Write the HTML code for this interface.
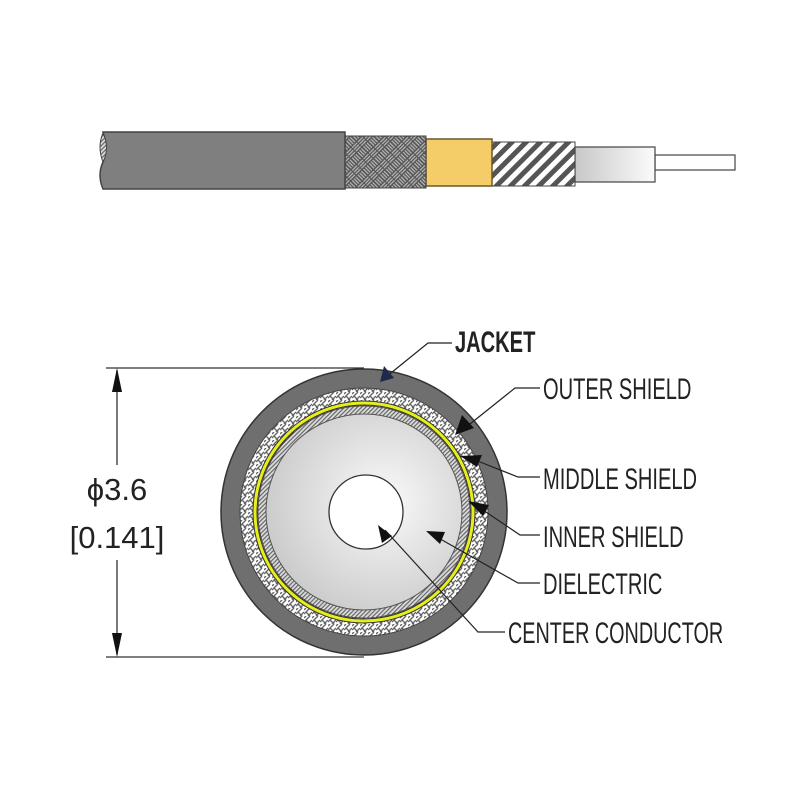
<!DOCTYPE html>
<html><head><meta charset="utf-8"><style>
html,body{margin:0;padding:0;background:#fff;}
svg{display:block;}
text{font-family:"Liberation Sans",sans-serif;}
</style></head><body>
<svg width="792" height="793" viewBox="0 0 792 793" xmlns="http://www.w3.org/2000/svg">
<defs>
  <pattern id="braid" width="16" height="16" patternUnits="userSpaceOnUse" patternTransform="rotate(45)">
    <rect width="16" height="16" fill="#555"/>
    <g stroke="#bbb" stroke-width="1.2">
      <line x1="1.5" y1="0.5" x2="1.5" y2="7.5"/><line x1="4" y1="0.5" x2="4" y2="7.5"/><line x1="6.5" y1="0.5" x2="6.5" y2="7.5"/>
      <line x1="8.5" y1="9.5" x2="15.5" y2="9.5"/><line x1="8.5" y1="12" x2="15.5" y2="12"/><line x1="8.5" y1="14.5" x2="15.5" y2="14.5"/>
      <line x1="8.5" y1="1.5" x2="15.5" y2="1.5"/><line x1="8.5" y1="4" x2="15.5" y2="4"/><line x1="8.5" y1="6.5" x2="15.5" y2="6.5"/>
      <line x1="1.5" y1="8.5" x2="1.5" y2="15.5"/><line x1="4" y1="8.5" x2="4" y2="15.5"/><line x1="6.5" y1="8.5" x2="6.5" y2="15.5"/>
    </g>
  </pattern>
  <pattern id="weave" width="8" height="8" patternUnits="userSpaceOnUse">
    <rect width="8" height="8" fill="#fff"/>
    <path d="M0 2 L2 0 M0 6 L6 0 M4 8 L8 4 M2 4 L6 8" stroke="#666" stroke-width="1.4" fill="none"/>
  </pattern>
  <pattern id="hatch" width="10" height="10" patternUnits="userSpaceOnUse" patternTransform="rotate(45)">
    <rect width="10" height="10" fill="#fff"/>
    <rect width="5" height="10" fill="#555"/>
  </pattern>
  <pattern id="fine" width="3" height="3" patternUnits="userSpaceOnUse" patternTransform="rotate(45)">
    <rect width="3" height="3" fill="#ddd"/><rect width="1.2" height="3" fill="#666"/>
  </pattern>
  <linearGradient id="diel" x1="0" x2="1" y1="0" y2="0">
    <stop offset="0" stop-color="#c8c8c8"/><stop offset="1" stop-color="#fbfbfb"/>
  </linearGradient>
  <radialGradient id="dielc" cx="0.6" cy="0.45" r="0.7">
    <stop offset="0" stop-color="#fafafa"/><stop offset="1" stop-color="#c4c4c4"/>
  </radialGradient>
</defs>

<rect x="655" y="155" width="80" height="15" fill="#fff" stroke="#444" stroke-width="1.2"/>
<rect x="575" y="147" width="80" height="35" fill="url(#diel)" stroke="#444" stroke-width="1.2"/>
<rect x="492" y="142" width="83" height="44" fill="url(#hatch)" stroke="#444" stroke-width="1"/>
<rect x="426" y="139" width="66" height="47" fill="#f4cd68" stroke="#6a5a2a" stroke-width="1.5"/>
<rect x="345" y="136" width="81" height="52" fill="url(#braid)" stroke="#444" stroke-width="1"/>
<path d="M103 132 L345 132 L345 189 L103 189 Q97 175 103 162 Q108 150 103 132 Z" fill="#7f7f7f" stroke="#444" stroke-width="1.5"/>
<path d="M103 133 Q97 147 103 162 Q110 148 103 133 Z" fill="url(#fine)" stroke="#444" stroke-width="1"/>

<circle cx="364" cy="512" r="143" fill="#6f6f6f" stroke="#333" stroke-width="1.5"/>
<circle cx="364" cy="512" r="124" fill="url(#weave)" stroke="#444" stroke-width="1"/>
<circle cx="364" cy="512" r="109" fill="none" stroke="#333" stroke-width="5"/>
<circle cx="364" cy="512" r="109" fill="none" stroke="#e6ef1c" stroke-width="3"/>
<circle cx="364" cy="512" r="106" fill="url(#fine)" stroke="#444" stroke-width="0.8"/>
<circle cx="364" cy="512" r="98" fill="url(#dielc)" stroke="#555" stroke-width="1"/>
<circle cx="366" cy="512" r="37" fill="#fff" stroke="#333" stroke-width="1.3"/>

<g stroke="#333" stroke-width="1.3" fill="none">
  <line x1="106" y1="368" x2="364" y2="368"/>
  <line x1="106" y1="657" x2="364" y2="657"/>
  <line x1="117" y1="370" x2="117" y2="465"/>
  <line x1="117" y1="560" x2="117" y2="655"/>
</g>
<polygon points="117,368 112,392 122,392" fill="#111"/>
<polygon points="117,657 112,633 122,633" fill="#111"/>
<text x="117" y="500" font-size="31" text-anchor="middle" fill="#222">ϕ3.6</text>
<text x="117" y="548" font-size="31" text-anchor="middle" fill="#222">[0.141]</text>

<g stroke="#222" stroke-width="1.2" fill="none">
  <polyline points="452,343 428,343 386,377"/>
  <polyline points="540,388 515,388 470,424"/>
  <polyline points="540,477 518,477 475,460"/>
  <polyline points="540,535 520,535 480,508"/>
  <polyline points="540,583 518,583 435,536"/>
  <polyline points="505,632 478,632 385,530"/>
</g>
<polygon points="380,382 384,366 394,378" fill="#1f2a4a"/>
<polygon points="455,435 462,415 474,428" fill="#111"/>
<polygon points="460,456 482,455 477,467" fill="#111"/>
<polygon points="468,501 489,505 483,516" fill="#111"/>
<polygon points="426,531 445,532 440,544" fill="#111"/>
<polygon points="378,525 392,536 382,543" fill="#111"/>

<g fill="#222" font-size="30">
  <text transform="translate(455,352) scale(0.67,1)" font-weight="bold">JACKET</text>
  <text transform="translate(543,399) scale(0.67,1)">OUTER SHIELD</text>
  <text transform="translate(543,489) scale(0.67,1)">MIDDLE SHIELD</text>
  <text transform="translate(543,547) scale(0.67,1)">INNER SHIELD</text>
  <text transform="translate(543,594) scale(0.67,1)">DIELECTRIC</text>
  <text transform="translate(508,643) scale(0.66,1)">CENTER CONDUCTOR</text>
</g>
</svg>
</body></html>
